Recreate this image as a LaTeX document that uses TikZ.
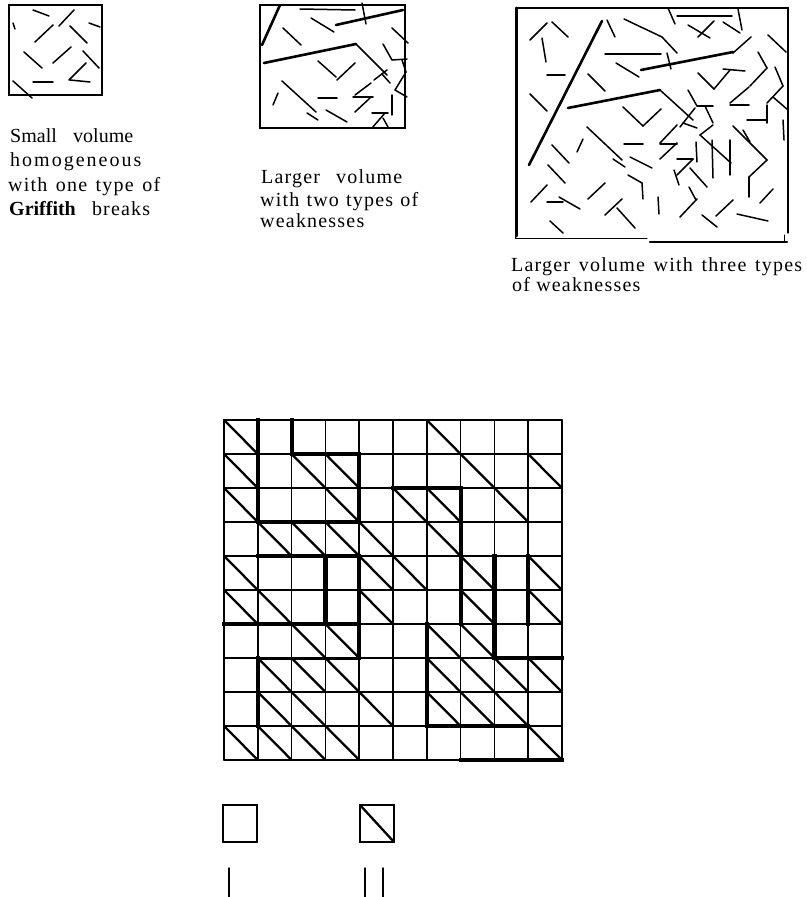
\documentclass[tikz,border=0pt]{standalone}
\usepackage{fontspec}
\setmainfont{Liberation Serif}
\newfontfamily\lsp[LetterSpace=6]{Liberation Serif}
\newfontfamily\lspw[LetterSpace=10]{Liberation Serif}
\begin{document}
\begin{tikzpicture}[x=1pt,y=-1pt,line cap=round,
  crack/.style={line width=1.5pt},
  bigcrack/.style={line width=2.6pt},
  frame/.style={line width=1.3pt},
  gridline/.style={line width=1.5pt},
  diagline/.style={line width=2.3pt},
  zone/.style={line width=4.2pt,line cap=rect},
  zonemid/.style={line width=3pt,line cap=rect},
  lbl/.style={anchor=base west,inner sep=0pt,font=\fontsize{20}{22}\lsp}]
\useasboundingbox (0,0) rectangle (806,897);

% ---------- box 1 ----------
\draw[frame] (9,5) rectangle (102,95);
\draw[line width=2.4pt] (9,5) -- (9,95);
\foreach \a/\b/\c/\d in {33/10/49/16, 13/23/15/29, 59/26/74/10, 35/42/53/25,
  89/23/100/27, 70/26/87/43, 24/52/42/68, 53/63/71/47, 83/51/99/68,
  69/80/86/63, 33/82/53/82, 70/80/90/82, 13/81/32/98}
  \draw[crack] (\a,\b) -- (\c,\d);

% ---------- box 2 ----------
\draw[frame] (260,5) rectangle (405,128);
\foreach \a/\b/\c/\d in {300/9/355/10, 362/3/366/24, 311/18/334/32, 283/28/301/45,
  392/28/408/43, 356/44/387/75, 382/74/390/83, 383/44/392/60, 392/60/407/59,
  402/60/406/72, 318/61/336/77, 337/80/355/63, 374/80/387/70, 406/72/395/90,
  395/90/407/97, 392/95/392/115, 282/81/316/112, 273/105/278/93, 318/98/337/98,
  353/97/373/97, 355/112/370/98, 355/95/371/83, 307/113/318/120, 326/110/347/122,
  372/113/388/113, 372/128/385/113, 383/118/388/127}
  \draw[crack] (\a,\b) -- (\c,\d);
\foreach \a/\b/\c/\d in {262/45/280/5, 336/25/403/10, 264/63/356/44}
  \draw[bigcrack] (\a,\b) -- (\c,\d);

% ---------- box 3 ----------
\draw[frame] (516,8) -- (788,8) -- (788,233);
\draw[line width=3pt] (516,8) -- (516,236);
\draw[line width=1pt] (515,233) -- (515,238) -- (647,238);
\draw[line width=2.2pt] (650,242) -- (787,242);
\draw[line width=0.8pt] (784,235) -- (784,241);
\foreach \a/\b/\c/\d in {529/165/602/21, 568/108/660/90, 641/70/733/52}
  \draw[bigcrack] (\a,\b) -- (\c,\d);
\foreach \a/\b/\c/\d in {660/90/693/120, 530/40/547/23, 552/22/568/37, 542/38/546/62,
  607/20/615/37, 624/19/662/37, 662/37/677/53, 668/8/675/24, 677/16/732/16,
  688/25/710/38, 698/37/714/21, 723/22/740/33, 738/9/742/30, 605/54/661/54,
  667/53/671/69, 616/63/639/77, 547/75/565/75, 588/74/605/91, 530/94/547/111,
  733/53/751/37, 768/35/786/52, 698/73/714/89, 714/89/730/70, 723/69/745/71,
  758/52/767/68, 767/68/750/86, 775/67/783/86, 783/86/767/103, 773/97/788/110,
  767/105/767/123, 747/120/767/120, 783/120/784/140, 730/103/749/87,
  730/105/749/105, 688/90/697/106, 697/106/713/106, 705/106/713/123,
  680/127/695/108, 683/123/697/128, 623/107/643/126, 643/126/661/109,
  660/143/677/125, 587/127/622/160, 624/144/643/144, 660/144/677/144,
  660/159/677/143, 577/152/583/139, 552/145/569/163, 613/159/625/167,
  630/157/652/168, 677/159/693/159, 700/135/731/163, 712/140/713/178,
  730/140/730/175, 696/142/697/162, 700/135/713/125, 733/126/767/160,
  743/130/750/142, 767/160/749/177, 749/177/749/197, 693/159/677/175,
  674/170/679/185, 690/168/707/187, 548/165/565/183, 531/202/547/185,
  547/202/563/202, 559/197/580/209, 588/199/605/183, 628/175/642/183,
  642/183/643/199, 658/197/659/214, 605/215/622/199, 617/208/635/228,
  680/217/697/199, 689/187/696/200, 716/216/733/200, 702/215/717/227,
  737/214/768/221, 760/203/773/189, 550/221/563/233}
  \draw[crack] (\a,\b) -- (\c,\d);

% ---------- captions ----------
\node[lbl] (t1a) at (10,142) {\fontspec{Liberation Serif}\makebox[123pt][s]{Small volume}};
\node[lbl] (t1b) at (10,166) {\lspw homogeneous};
\node[lbl] (t1c) at (8,191) {\makebox[152pt][s]{with one type of}};
\node[lbl] (t1d) at (9,215) {\makebox[141pt][s]{{\fontspec{Liberation Serif}\bfseries Griffith} breaks}};

\node[lbl] (t2a) at (261,183) {\makebox[141pt][s]{Larger volume}};
\node[lbl] (t2b) at (260,206) {\makebox[158pt][s]{with two types of}};
\node[lbl] (t2c) at (260,227) {weaknesses};

\node[lbl] (t3a) at (511,271) {\makebox[291pt][s]{Larger volume with three types}};
\node[lbl] (t3b) at (512,291) {of weaknesses};

% ---------- grid ----------
\foreach \i in {0,...,10} {
  \draw[gridline] (224+\i*33.8,420) -- (224+\i*33.8,760);
  \draw[gridline] (224,420+\i*34) -- (562,420+\i*34);
}
\foreach \r/\cols in {1/{1,7}, 2/{1,3,4,8,10}, 3/{1,4,6,7,9}, 4/{2,3,4,5,7},
  5/{1,5,6,8,10}, 6/{1,2,5,8,10}, 7/{3,4,7,8}, 8/{2,3,4,7,8,9,10},
  9/{2,3,5,7,8,9}, 10/{1,2,3,4,10}}
  \foreach \c in \cols
    \draw[diagline] (224+\c*33.8-33.8,420+\r*34-34) -- (224+\c*33.8,420+\r*34);
% zone boundaries: vertical (line index i, rows j1..j2), horizontal (line j, cols i1..i2)
\foreach \i/\ja/\jb in {1/0/3, 2/0/1, 4/1/3, 3/4/6, 4/4/7, 1/7/9, 7/2/6, 8/4/7, 9/4/6, 6/6/9}
  \draw[zone] (224+\i*33.8,420+\ja*34) -- (224+\i*33.8,420+\jb*34);
\foreach \j/\ia/\ib in {1/2/4, 3/1/4, 4/1/4, 6/0/4, 2/5/7, 7/8/10, 9/6/9, 10/7/10}
  \draw[zone] (224+\ia*33.8,420+\j*34) -- (224+\ib*33.8,420+\j*34);
\draw[zonemid] (224+33.8,420+7*34) -- (224+4*33.8,420+7*34);

% ---------- legend ----------
\draw[gridline] (223,805) rectangle (257,842);
\draw[gridline] (360,805) rectangle (394,842);
\draw[diagline] (360,805) -- (394,842);
\draw[line width=1.5pt] (229,868) -- (229,900);
\draw[line width=1.5pt] (365,868) -- (365,900);
\draw[line width=1.5pt] (383,868) -- (383,900);
\end{tikzpicture}
\end{document}
